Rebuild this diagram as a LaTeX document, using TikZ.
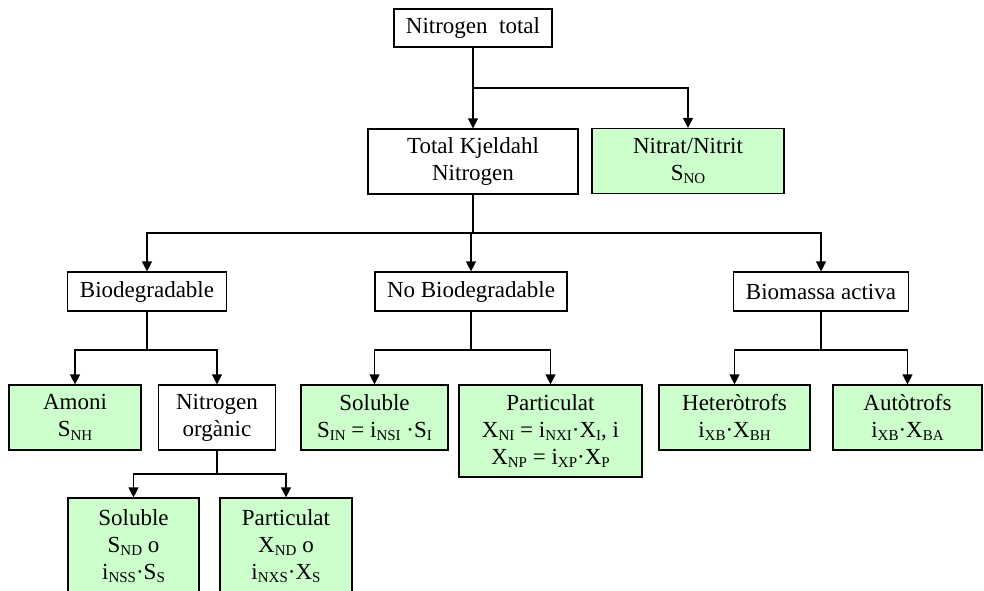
\documentclass[tikz,border=0pt]{standalone}
\usepackage{fontspec}
\setmainfont{Liberation Serif}
\usetikzlibrary{arrows.meta}
\definecolor{leafgreen}{RGB}{204,255,204}
% lowered, smaller subscript in text
\newcommand{\lowsub}[1]{\raisebox{-0.32ex}{\fontsize{15}{15}\selectfont #1}}
\tikzset{
  x=1pt, y=-1pt,
  box/.style={draw=black, line width=1.2pt, fill=white, align=center,
    inner sep=0pt, font=\fontsize{23}{27}\selectfont},
  leaf/.style={box, fill=leafgreen},
  link/.style={line width=1.2pt},
  arr/.style={link, -{Triangle[length=10pt,width=10pt]}}
}
\begin{document}
\begin{tikzpicture}
\clip (0,0) rectangle (984,590);
\fill[white] (0,0) rectangle (984,590);

% level 1 and 2
\node[box, minimum width=158pt, minimum height=38pt] (nt) at (473,28) {Nitrogen \ total};
\node[box, minimum width=210pt, minimum height=65pt] (tkn) at (473,161.5) {Total Kjeldahl\\Nitrogen};
\node[leaf, minimum width=192pt, minimum height=65pt] (nn) at (688,161) {Nitrat/Nitrit\\S\lowsub{NO}};

% level 3
\node[box, minimum width=159pt, minimum height=39pt] (bio) at (147,291.5) {Biodegradable};
\node[box, minimum width=192pt, minimum height=39pt] (nobio) at (471,291.5) {No Biodegradable};
\node[box, minimum width=175pt, minimum height=39pt] (bm) at (821,291.5) {Biomassa activa};

% level 4
\node[leaf, minimum width=132pt, minimum height=65pt] (amoni) at (75,417.5) {Amoni\\S\lowsub{NH}};
\node[box, minimum width=117pt, minimum height=65pt] (norg) at (217,417.5) {Nitrogen\\orgànic};
\node[leaf, minimum width=147pt, minimum height=65pt] (solI) at (374.5,417.5) {Soluble\\S\lowsub{IN} = i\lowsub{NSI} ·S\lowsub{I}};
\node[leaf, minimum width=183pt, minimum height=92pt] (partI) at (550.5,431) {Particulat\\X\lowsub{NI} = i\lowsub{NXI}·X\lowsub{I}, i\\X\lowsub{NP} = i\lowsub{XP}·X\lowsub{P}};
\node[leaf, minimum width=151pt, minimum height=65pt] (het) at (734.5,417.5) {Heteròtrofs\\i\lowsub{XB}·X\lowsub{BH}};
\node[leaf, minimum width=149pt, minimum height=65pt] (aut) at (907.5,417.5) {Autòtrofs\\i\lowsub{XB}·X\lowsub{BA}};

% level 5
\node[leaf, minimum width=131pt, minimum height=96pt] (solS) at (133.5,546) {Soluble\\S\lowsub{ND} o\\i\lowsub{NSS}·S\lowsub{S}};
\node[leaf, minimum width=132pt, minimum height=96pt] (partS) at (286,546) {Particulat\\X\lowsub{ND} o\\i\lowsub{NXS}·X\lowsub{S}};

% junction points of the tree
\coordinate (j1) at (473,88);
\coordinate (j2) at (473,233);
\coordinate (j3) at (147,350);
\coordinate (j4) at (471,350);
\coordinate (j5) at (821,350);
\coordinate (j6) at (217,474);

% connectors
\draw[link] (nt) -- (j1);
\draw[arr] (j1) -- (tkn);
\draw[arr] (j1) -| (nn);

\draw[link] (tkn) -- (j2);
\draw[arr] (j2) -| (bio);
\draw[arr] (j2) -| (nobio);
\draw[arr] (j2) -| (bm);

\draw[link] (bio) -- (j3);
\draw[arr] (j3) -| (amoni);
\draw[arr] (j3) -| (norg);

\draw[link] (nobio) -- (j4);
\draw[arr] (j4) -| (solI);
\draw[arr] (j4) -| (partI);

\draw[link] (bm) -- (j5);
\draw[arr] (j5) -| (het);
\draw[arr] (j5) -| (aut);

\draw[link] (norg) -- (j6);
\draw[arr] (j6) -| (solS);
\draw[arr] (j6) -| (partS);
\end{tikzpicture}
\end{document}
